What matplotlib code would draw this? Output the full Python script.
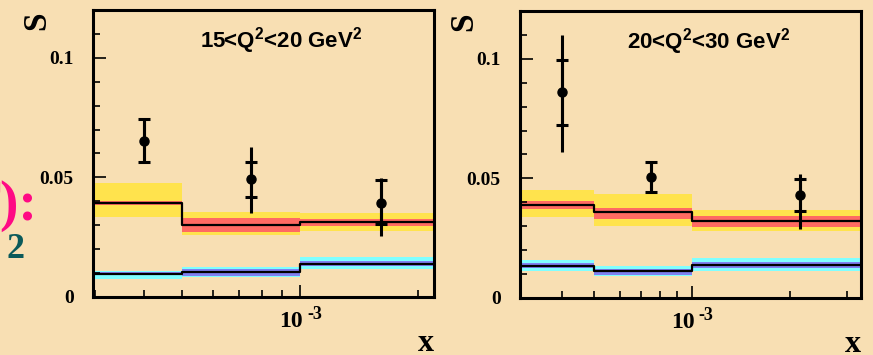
import numpy as np
import matplotlib
matplotlib.use("Agg")
import matplotlib.pyplot as plt
import matplotlib.transforms as mtransforms
from matplotlib.ticker import FixedLocator, NullFormatter

plt.rcParams["mathtext.fontset"] = "custom"
plt.rcParams["mathtext.rm"] = "Liberation Sans:bold"
plt.rcParams["mathtext.it"] = "Liberation Sans:bold"
plt.rcParams["mathtext.bf"] = "Liberation Sans:bold"

# ---------------- data ----------------
titles = ["15<Q$^2$<20 GeV$^2$", "20<Q$^2$<30 GeV$^2$"]
xlims = [(2.97e-4, 2.2e-3), (2.97e-4, 3.3e-3)]
bin_edges = [[2.9e-4, 5e-4, 1e-3, 2.2e-3], [2.9e-4, 5e-4, 1e-3, 3.3e-3]]

# upper prediction (line, red band, yellow band)
up_line = [[0.0394, 0.0302, 0.0315], [0.0390, 0.0358, 0.0322]]
up_red_lo = [[0.0386, 0.0273, 0.0298], [0.0373, 0.0330, 0.0298]]
up_red_hi = [[0.0402, 0.0331, 0.0327], [0.0406, 0.0376, 0.0344]]
up_yel_lo = [[0.0335, 0.0260, 0.0277], [0.0337, 0.0302, 0.0281]]
up_yel_hi = [[0.0477, 0.0356, 0.0352], [0.0452, 0.0434, 0.0369]]

# lower prediction (line, blue band, cyan band)
lo_line = [[0.0098, 0.0103, 0.0140], [0.0135, 0.0112, 0.0138]]
lo_blu_lo = [[0.0090, 0.0089, 0.0129], [0.0126, 0.0098, 0.0126]]
lo_blu_hi = [[0.0106, 0.0119, 0.0150], [0.0145, 0.0122, 0.0149]]
lo_cya_lo = [[0.0077, 0.0085, 0.0119], [0.0112, 0.0090, 0.0112]]
lo_cya_hi = [[0.0110, 0.0127, 0.0169], [0.0159, 0.0135, 0.0167]]

# measured points
pt_x = [[4.0e-4, 7.5e-4, 1.61e-3], [4.0e-4, 7.5e-4, 2.14e-3]]
pt_y = [[0.0653, 0.0494, 0.0392], [0.0860, 0.0506, 0.0431]]
stat_up = [[0.0091, 0.0072, 0.0098], [0.0137, 0.0063, 0.0066]]
stat_dn = [[0.0087, 0.0074, 0.0087], [0.0138, 0.0062, 0.0069]]
tot_up = [[0.0091, 0.0134, 0.0106], [0.0238, 0.0063, 0.0089]]
tot_dn = [[0.0087, 0.0141, 0.0136], [0.0248, 0.0062, 0.0143]]

bg = "#f8dfb3"
serif_bold = dict(family="Liberation Serif", weight="bold")

fig = plt.figure(figsize=(8.73, 3.55), dpi=100, facecolor=bg)
axes_pos = [[0.1065, 0.1634, 0.3906, 0.8085], [0.5956, 0.1606, 0.3906, 0.8085]]


def band(ax, edges, lo, hi, color):
    ax.fill_between(edges, list(lo) + [lo[-1]], list(hi) + [hi[-1]],
                    step="post", color=color, linewidth=0)


for i in range(2):
    ax = fig.add_axes(axes_pos[i])
    ax.set_facecolor(bg)
    ax.set_xscale("log")
    ax.set_xlim(*xlims[i])
    ax.set_ylim(0, 0.12)
    edges = bin_edges[i]

    band(ax, edges, up_yel_lo[i], up_yel_hi[i], "#ffe34d")
    band(ax, edges, up_red_lo[i], up_red_hi[i], "#ff6a62")
    ax.step(edges, up_line[i] + [up_line[i][-1]], where="post", color="black", lw=1.6)

    band(ax, edges, lo_cya_lo[i], lo_cya_hi[i], "#80ffff")
    band(ax, edges, lo_blu_lo[i], lo_blu_hi[i], "#8080f0")
    ax.step(edges, lo_line[i] + [lo_line[i][-1]], where="post", color="black", lw=1.6)

    ax.errorbar(pt_x[i], pt_y[i], yerr=[tot_dn[i], tot_up[i]], fmt="o", color="black",
                ms=6.5, elinewidth=2.2, capsize=0)
    ax.errorbar(pt_x[i], pt_y[i], yerr=[stat_dn[i], stat_up[i]], fmt="none", ecolor="black",
                elinewidth=2.2, capsize=4.5, capthick=2.2)

    for s in ax.spines.values():
        s.set_linewidth(2.2)

    # ticks
    ax.yaxis.set_major_locator(FixedLocator([0, 0.05, 0.1]))
    ax.yaxis.set_minor_locator(FixedLocator(np.arange(0, 0.121, 0.01)))
    ax.set_yticklabels(["0", "0.05", "0.1"], fontsize=14, **serif_bold)
    ax.xaxis.set_major_locator(FixedLocator([1e-3]))
    ax.xaxis.set_minor_locator(FixedLocator([3e-4, 4e-4, 5e-4, 6e-4, 7e-4, 8e-4, 9e-4, 2e-3, 3e-3]))
    ax.xaxis.set_major_formatter(NullFormatter())
    ax.xaxis.set_minor_formatter(NullFormatter())
    ax.tick_params(which="major", direction="in", length=9, width=1.2, pad=14)
    ax.tick_params(which="minor", direction="in", length=5, width=1.2)
    ax.tick_params(axis="y", which="major", pad=14)

    # 10^-3 label
    tr = mtransforms.blended_transform_factory(ax.transData, ax.transAxes)
    ax.text(1.018e-3, -0.05, "10", transform=tr, ha="right", va="top", fontsize=17, **serif_bold)
    ax.text(1.048e-3, -0.03, "-3", transform=tr, ha="left", va="top", fontsize=13, **serif_bold)

    # title
    ax.text(0.553, 0.87, titles[i], transform=ax.transAxes, ha="center", va="baseline",
            fontsize=16, family="Liberation Sans", weight="bold")

    # axis titles
    ax.text(-0.166, 0.962, "S", transform=ax.transAxes, rotation=90, ha="center", va="center",
            fontsize=24, **serif_bold)
    ax.text(0.975, -0.188, "x", transform=ax.transAxes, ha="center", va="baseline",
            fontsize=23, **serif_bold)

# cropped text at the left edge
fig.text(37 / 873, 0.38, "T):", ha="right", va="baseline", color="#ff0a84",
         fontsize=40, **serif_bold)
fig.text(24 / 873, 0.273, "2", ha="right", va="baseline", color="#0b5a5a",
         fontsize=26, **serif_bold)

fig.savefig("out.png", dpi=100, facecolor=bg)
